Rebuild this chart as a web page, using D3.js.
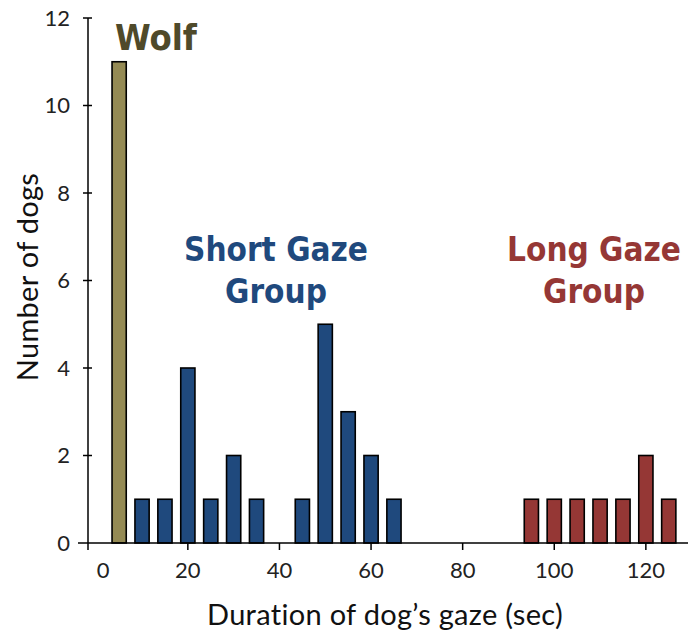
<!DOCTYPE html>
<html>
<head>
<meta charset="utf-8">
<script src="https://cdn.jsdelivr.net/npm/d3@7"></script>
<style>
  body { margin: 0; background: #fff; }
  text { font-family: Lato, "Open Sans", sans-serif; }
  text.group-label { font-family: "DejaVu Sans Condensed", "DejaVu Sans", sans-serif; font-weight: bold; }
</style>
</head>
<body>
<svg id="chart" width="688" height="635"></svg>
<script>
// Histogram bins (bin centre in seconds) and counts
const wolfBins = [5];
const wolfCounts = [11];
const shortBins = [10, 15, 20, 25, 30, 35, 45, 50, 55, 60, 65];
const shortCounts = [1, 1, 4, 1, 2, 1, 1, 5, 3, 2, 1];
const longBins = [95, 100, 105, 110, 115, 120, 125];
const longCounts = [1, 1, 1, 1, 1, 2, 1];
const xTicks = [0, 20, 40, 60, 80, 100, 120];
const yTicks = [0, 2, 4, 6, 8, 10, 12];

const groups = [
  {bins: wolfBins, counts: wolfCounts, color: '#948a54'},
  {bins: shortBins, counts: shortCounts, color: '#1f497d'},
  {bins: longBins, counts: longCounts, color: '#953735'}
];

const svg = d3.select('#chart');

// x: 0 sits a little right of the y axis, like the Excel original
const x = d3.scaleLinear().domain([-1.8, 129.2]).range([88, 688]);
const y = d3.scaleLinear().domain([0, 12]).range([543, 18]);
const barW = x(3.1) - x(0);

// Bars
groups.forEach(gr => {
  svg.append('g').selectAll('rect')
    .data(gr.bins.map((b, i) => ({bin: b, n: gr.counts[i]})))
    .enter().append('rect')
    .attr('x', d => x(d.bin) - barW / 2)
    .attr('y', d => y(d.n))
    .attr('width', barW)
    .attr('height', d => y(0) - y(d.n))
    .attr('fill', gr.color)
    .attr('stroke', '#000')
    .attr('stroke-width', 1.6);
});

// x axis
const xAxis = svg.append('g').attr('transform', `translate(0,${y(0)})`);
xAxis.append('line')
  .attr('x1', 78).attr('x2', 688)
  .attr('stroke', '#000').attr('stroke-width', 1.5);
xAxis.selectAll('.xt').data(xTicks.slice(1)).enter().append('line')
  .attr('x1', d => x(d)).attr('x2', d => x(d))
  .attr('y1', 0).attr('y2', 7)
  .attr('stroke', '#000').attr('stroke-width', 1.5);
xAxis.selectAll('.xl').data(xTicks).enter().append('text')
  .attr('x', d => d === 0 ? x(d) + 7 : x(d))
  .attr('y', 35)
  .attr('text-anchor', 'middle')
  .attr('font-size', 22)
  .attr('fill', '#222')
  .text(d => d);

// y axis
const yAxis = svg.append('g').attr('transform', `translate(88,0)`);
yAxis.append('line')
  .attr('y1', y(12)).attr('y2', y(0) + 7)
  .attr('stroke', '#000').attr('stroke-width', 1.5);
yAxis.selectAll('.yt').data(yTicks.slice(1)).enter().append('line')
  .attr('x1', -5).attr('x2', 4)
  .attr('y1', d => y(d)).attr('y2', d => y(d))
  .attr('stroke', '#000').attr('stroke-width', 1.5);
yAxis.selectAll('.yl').data(yTicks).enter().append('text')
  .attr('x', -18)
  .attr('y', d => y(d))
  .attr('dy', '0.36em')
  .attr('text-anchor', 'end')
  .attr('font-size', 22)
  .attr('fill', '#222')
  .text(d => d);

// axis titles
svg.append('text')
  .attr('x', 385).attr('y', 625)
  .attr('text-anchor', 'middle')
  .attr('font-size', 29)
  .attr('letter-spacing', 0.3)
  .attr('fill', '#111')
  .text('Duration of dog’s gaze (sec)');

svg.append('text')
  .attr('transform', 'translate(38,277) rotate(-90)')
  .attr('text-anchor', 'middle')
  .attr('font-size', 29)
  .attr('letter-spacing', 0.3)
  .attr('fill', '#111')
  .text('Number of dogs');

// group labels
const labels = [
  {lines: ['Wolf'], x: 156, y: 50, size: 36, color: '#4f4a2a'},
  {lines: ['Short Gaze', 'Group'], x: 276, y: 261, size: 33, color: '#1f497d'},
  {lines: ['Long Gaze', 'Group'], x: 594, y: 261, size: 33, color: '#953735'}
];
labels.forEach(l => {
  const t = svg.append('text')
    .attr('class', 'group-label')
    .attr('x', l.x).attr('y', l.y)
    .attr('text-anchor', 'middle')
    .attr('font-size', l.size)
    .attr('fill', l.color);
  l.lines.forEach((s, i) => {
    t.append('tspan').attr('x', l.x).attr('dy', i === 0 ? 0 : 42).text(s);
  });
});
</script>
</body>
</html>
